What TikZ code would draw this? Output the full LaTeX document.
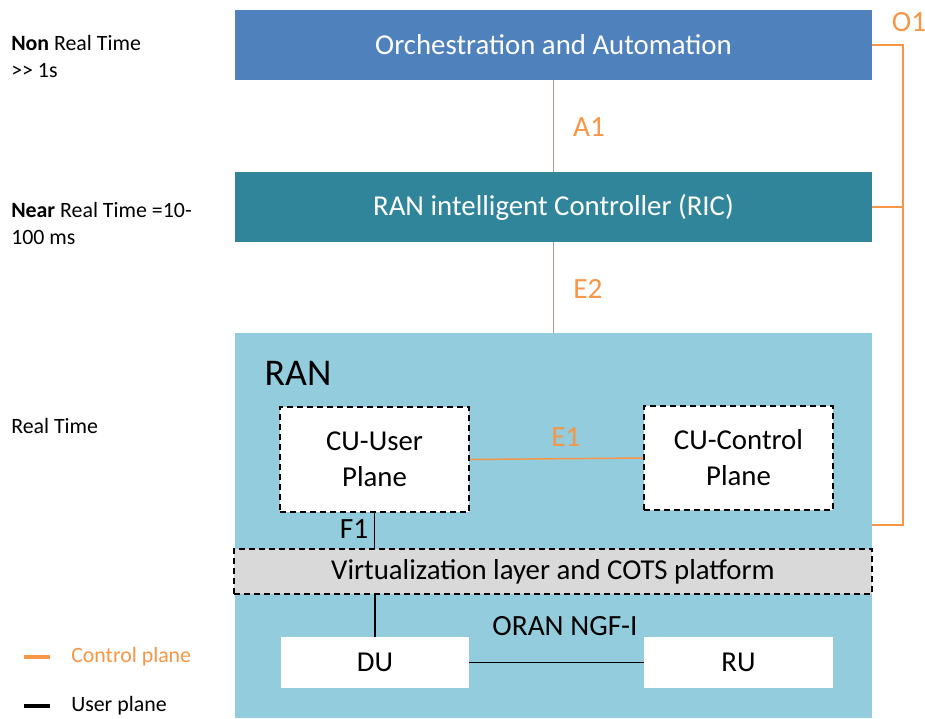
\documentclass[tikz,border=0pt]{standalone}
\usepackage{fontspec}
\setmainfont{Carlito}
\definecolor{orchc}{RGB}{79,129,189}
\definecolor{ricc}{RGB}{49,133,155}
\definecolor{ranc}{RGB}{147,204,221}
\definecolor{virtc}{RGB}{217,217,217}
\definecolor{ctrlc}{RGB}{247,150,70}
\definecolor{linkc}{RGB}{175,155,145}
\begin{document}
\begin{tikzpicture}[x=0.75pt,y=-0.75pt,
  box/.style={rectangle,inner sep=0pt,align=center,font=\fontsize{21.6}{27}\selectfont},
  bigbox/.style={box,minimum width=637*0.75pt,minimum height=70*0.75pt,text=white},
  dashbox/.style={draw=black,dash pattern=on 4.5pt off 3pt,line width=0.9pt},
  cubox/.style={box,fill=white,dashbox,minimum width=189*0.75pt,minimum height=105*0.75pt},
  unitbox/.style={box,fill=white,minimum width=189*0.75pt,minimum height=51*0.75pt},
  sidelbl/.style={anchor=west,align=left,inner sep=0pt,font=\fontsize{16.4}{20.25}\selectfont},
  lbl/.style={inner sep=0pt,font=\fontsize{22}{24}\selectfont},
  ifl/.style={lbl,text=ctrlc},
  ctrl/.style={draw=ctrlc,line width=1.3pt},
  usr/.style={draw=black,line width=1.1pt},
  lnk/.style={draw=linkc,line width=1.3pt}]
\useasboundingbox (0,0) rectangle (925,718);
\fill[white] (0,0) rectangle (925,718);
% main boxes
\node[bigbox,fill=orchc] (orch) at (553.5,45) {Orchestration and Automation};
\node[bigbox,fill=ricc] (ric) at (553.5,207) {RAN intelligent Controller (RIC)};
\node[box,fill=ranc,minimum width=637*0.75pt,minimum height=385*0.75pt] (ran) at (553.5,525.5) {};
\node[anchor=center,inner sep=0pt,font=\fontsize{28.3}{30}\selectfont] (ranlbl) at (298,373) {RAN};
% inner boxes
\node[cubox] (cuu) at (374.5,459.5) {CU-User\\Plane};
\node[cubox,minimum height=104*0.75pt] (cuc) at (738.5,458) {CU-Control\\Plane};
\node[box,fill=virtc,dashbox,minimum width=638*0.75pt,minimum height=45*0.75pt] (virt) at (553,571.5) {Virtualization layer and COTS platform};
\node[unitbox,minimum width=188*0.75pt] (du) at (375,662.5) {DU};
\node[unitbox] (ru) at (738.5,662.5) {RU};
% connectors
\draw[lnk] (orch) -- (ric);
\draw[lnk] (ric) -- (ran);
\node[ifl] (a1) at (589,127) {A1};
\node[ifl] (e2) at (588,289) {E2};
\coordinate (o1a) at (903,45);
\coordinate (o1b) at (903,525);
\draw[ctrl] (orch.east) -- (o1a) -- (o1b) -- (ran.east |- o1b);
\draw[ctrl] (ric.east) -- (ric.east -| o1a);
\node[ifl] (o1) at (909,22) {O1};
\draw[ctrl,line width=1.1pt] (cuu.east) -- (cuc.west);
\node[ifl] (e1) at (566,437) {E1};
\draw[usr] (cuu.south) -- (cuu.south |- virt.north);
\node[lbl] (f1) at (354,529) {F1};
\draw[usr] (du.north) -- (du.north |- virt.south);
\draw[usr] (du.east) -- (ru.west);
\node[lbl] (oran) at (565,626) {ORAN NGF-I};
% side labels
\node[sidelbl] (nrt) at (11,56.5) {\textbf{Non} Real Time\\\textgreater{}\textgreater{} 1s};
\node[sidelbl] (near) at (11,223) {\textbf{Near} Real Time =10-\\100 ms};
\node[sidelbl] (rt) at (11,426) {Real Time};
% legend
\coordinate (lc1) at (24,657);
\coordinate (lc2) at (50,657);
\coordinate (lu1) at (24,706);
\coordinate (lu2) at (50,706);
\draw[draw=ctrlc,line width=2.8pt] (lc1) -- (lc2);
\draw[draw=black,line width=2.8pt] (lu1) -- (lu2);
\node[sidelbl,text=ctrlc] (lgc) at (71,657) {Control plane};
\node[sidelbl] (lgu) at (71,706) {User plane};
\end{tikzpicture}
\end{document}
